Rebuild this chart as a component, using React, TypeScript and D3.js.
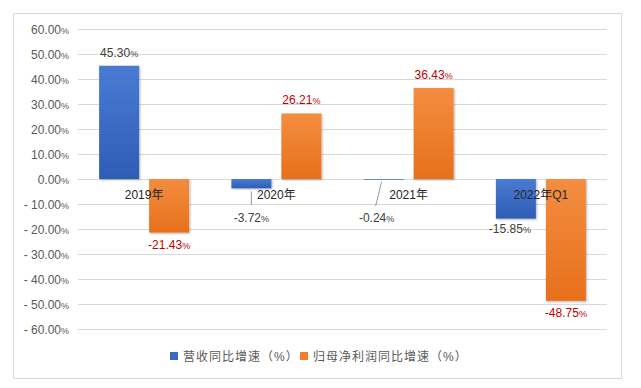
import React, { useEffect, useRef } from 'react';
import * as d3 from 'd3';

const categories = ['2019年', '2020年', '2021年', '2022年Q1'];
const revenueGrowth = [45.3, -3.72, -0.24, -15.85];
const profitGrowth = [-21.43, 26.21, 36.43, -48.75];
const yTicks = [60, 50, 40, 30, 20, 10, 0, -10, -20, -30, -40, -50, -60];
const seriesNames = ['营收同比增速（%）', '归母净利润同比增速（%）'];

const App = () => {
  const ref = useRef<SVGSVGElement>(null);

  useEffect(() => {
    const svg = d3.select(ref.current);
    svg.selectAll('*').remove();

    const width = 641;
    const height = 388;
    const left = 78;
    const right = 607;
    const font = '"Liberation Sans", Arial, "Noto Sans CJK SC", sans-serif';

    svg.attr('width', width).attr('height', height);

    // frame
    svg
      .append('rect')
      .attr('x', 13.5)
      .attr('y', 13.5)
      .attr('width', 608)
      .attr('height', 365)
      .attr('fill', '#fff')
      .attr('stroke', '#d9d9d9');

    const defs = svg.append('defs');
    const grad = (id, top, bottom) => {
      const g = defs
        .append('linearGradient')
        .attr('id', id)
        .attr('x1', '0')
        .attr('x2', '0')
        .attr('y1', '0')
        .attr('y2', '1');
      g.append('stop').attr('offset', '0%').attr('stop-color', top);
      g.append('stop').attr('offset', '100%').attr('stop-color', bottom);
    };
    grad('blueGrad', '#4a7bd3', '#2e5db5');
    grad('orangeGrad', '#f38d40', '#e7701c');
    const shadow = defs.append('filter').attr('id', 'shadow');
    shadow
      .append('feDropShadow')
      .attr('dx', 1)
      .attr('dy', 1)
      .attr('stdDeviation', 1.2)
      .attr('flood-opacity', 0.3);

    const y = d3.scaleLinear().domain([-60, 60]).range([329, 29]);
    const x = d3.scaleBand().domain(categories).range([left, right]);
    const barW = 40;
    const gap = 10;

    // grid + y labels
    svg
      .append('g')
      .selectAll('line')
      .data(yTicks)
      .join('line')
      .attr('x1', left)
      .attr('x2', right)
      .attr('y1', (d) => Math.round(y(d)) + 0.5)
      .attr('y2', (d) => Math.round(y(d)) + 0.5)
      .attr('stroke', '#d9d9d9');

    const yl = svg
      .append('g')
      .selectAll('text')
      .data(yTicks)
      .join('text')
      .attr('x', 69)
      .attr('y', (d) => y(d) + 4.5)
      .attr('text-anchor', 'end')
      .attr('font-family', font)
      .attr('font-size', 12)
      .attr('fill', '#595959');
    yl.append('tspan').text((d) => (d < 0 ? '- ' + Math.abs(d).toFixed(2) : d.toFixed(2)));
    yl.append('tspan').attr('font-size', 9).text('%');

    const center = (c) => x(c) + x.bandwidth() / 2;
    const series = [
      { values: revenueGrowth, fill: 'url(#blueGrad)', dx: -gap / 2 - barW, labelColor: '#404040' },
      { values: profitGrowth, fill: 'url(#orangeGrad)', dx: gap / 2, labelColor: '#c00000' },
    ];

    series.forEach((s) => {
      svg
        .append('g')
        .selectAll('rect')
        .data(categories)
        .join('rect')
        .attr('x', (c) => center(c) + s.dx)
        .attr('y', (c, i) => y(Math.max(0, s.values[i])))
        .attr('width', barW)
        .attr('height', (c, i) => Math.abs(y(s.values[i]) - y(0)))
        .attr('fill', s.fill)
        .attr('filter', 'url(#shadow)');
    });

    // category labels
    svg
      .append('g')
      .selectAll('text')
      .data(categories)
      .join('text')
      .attr('x', (c) => center(c))
      .attr('y', y(0) + 20)
      .attr('text-anchor', 'middle')
      .attr('font-family', font)
      .attr('font-size', 12)
      .attr('fill', '#262626')
      .text((c) => c);

    // leader lines for small negative revenue labels
    const leaders = [
      { i: 1, x1: -25, y1: 3, x2: -25, y2: 26 },
      { i: 2, x1: -27, y1: 2, x2: -33, y2: 27 },
    ];
    svg
      .append('g')
      .selectAll('line')
      .data(leaders)
      .join('line')
      .attr('x1', (d) => center(categories[d.i]) + d.x1)
      .attr('x2', (d) => center(categories[d.i]) + d.x2)
      .attr('y1', (d) => y(revenueGrowth[d.i]) + d.y1)
      .attr('y2', (d) => y(0) + d.y2)
      .attr('stroke', '#7f7f7f')
      .attr('stroke-width', 0.8);

    // data labels
    const labelPos = [
      [
        { dx: -25, dy: -9 },
        { dx: -25, dy: 43 },
        { dx: -32, dy: 43 },
        { dx: -31, dy: 14 },
      ],
      [
        { dx: 25, dy: 16 },
        { dx: 25, dy: -9 },
        { dx: 25, dy: -9 },
        { dx: 25, dy: 16 },
      ],
    ];
    series.forEach((s, si) => {
      const t = svg
        .append('g')
        .selectAll('text')
        .data(categories)
        .join('text')
        .attr('x', (c, i) => center(c) + labelPos[si][i].dx)
        .attr('y', (c, i) => {
          const p = labelPos[si][i];
          if (si === 0 && (i === 1 || i === 2)) return y(0) + p.dy;
          return y(s.values[i]) + p.dy;
        })
        .attr('text-anchor', 'middle')
        .attr('font-family', font)
        .attr('font-size', 12)
        .attr('fill', s.labelColor);
      t.append('tspan').text((c, i) => {
        const v = s.values[i];
        return (v < 0 ? '-' : '') + Math.abs(v).toFixed(2);
      });
      t.append('tspan').attr('font-size', 9).text('%');
    });

    // legend
    const legend = svg.append('g').attr('transform', 'translate(170, 357)');
    const items = [
      { name: seriesNames[0], color: '#3a68c4', x: 0 },
      { name: seriesNames[1], color: '#ef7f2c', x: 130 },
    ];
    items.forEach((it) => {
      legend
        .append('rect')
        .attr('x', it.x)
        .attr('y', -5)
        .attr('width', 8)
        .attr('height', 8)
        .attr('fill', it.color);
      legend
        .append('text')
        .attr('x', it.x + 13)
        .attr('y', 4)
        .attr('font-family', font)
        .attr('font-size', 12)
        .attr('letter-spacing', 1)
        .attr('fill', '#595959')
        .text(it.name);
    });
  }, []);

  return <svg ref={ref} style={{ display: 'block', position: 'absolute', left: 0, top: 0 }} />;
};

export default App;
